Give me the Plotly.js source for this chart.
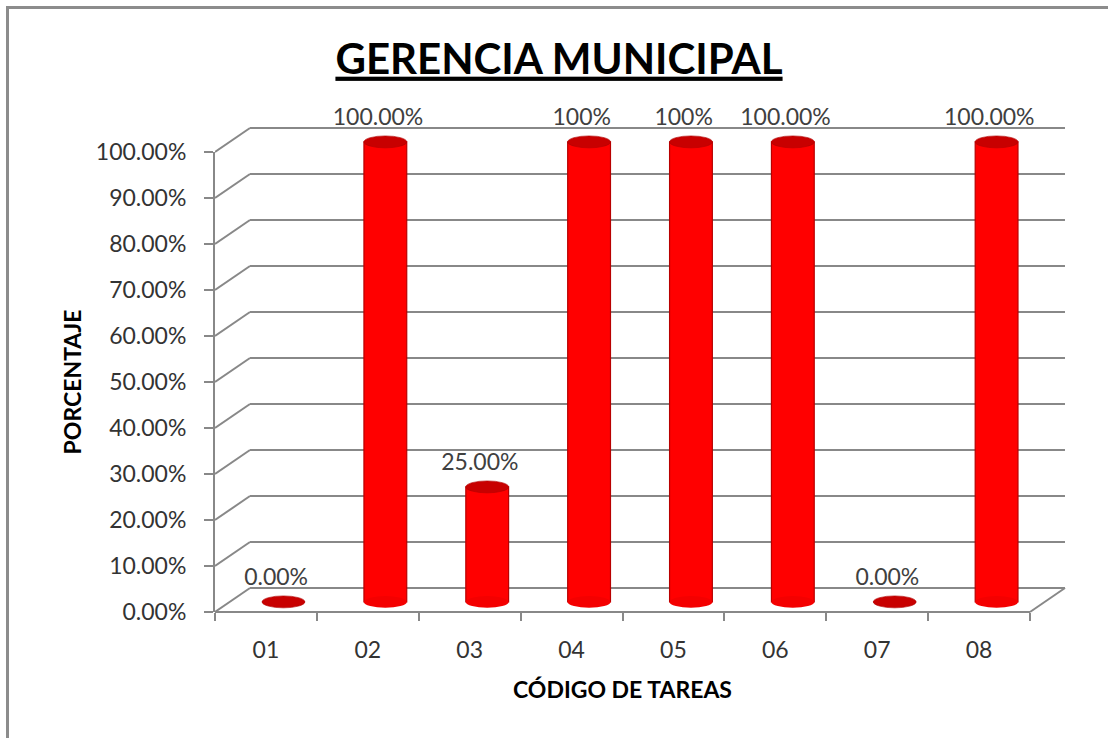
<!DOCTYPE html>
<html><head><meta charset="utf-8">
<script src="https://cdn.plot.ly/plotly-3.0.1.min.js"></script>
<style>
html,body{margin:0;padding:0;background:#fff;overflow:hidden}
#chart{width:1108px;height:738px;position:absolute;left:0;top:0}
#frame{position:absolute;left:6px;top:6px;width:1300px;height:900px;border-left:3px solid #8c8c8c;border-top:3px solid #8c8c8c;pointer-events:none}
</style></head><body>
<div id="chart"></div><div id="frame"></div>
<script>
// ---- data ----
const categories = ['01','02','03','04','05','06','07','08'];
const values = [0, 1, 0.25, 1, 1, 1, 0, 1];
const dataLabels = ['0.00%','100.00%','25.00%','100%','100%','100.00%','0.00%','100.00%'];
const yTickVals = [0, 0.1, 0.2, 0.3, 0.4, 0.5, 0.6, 0.7, 0.8, 0.9, 1.0];
const yTickText = ['0.00%','10.00%','20.00%','30.00%','40.00%','50.00%','60.00%','70.00%','80.00%','90.00%','100.00%'];

// ---- styling / 3D projection constants ----
const FONT = 'Lato, "Liberation Sans", sans-serif';
const GRID = '#888888';
const DX = 0.3435, DY = 0.0522;      // depth offset of back wall
const FLOOR = 0.022;                  // bar base at mid depth
const BAR_SHIFT = 0.172, BAR_W = 0.42, CAP_H = 0.026;
const n = categories.length;
const idx = categories.map((c, i) => i);
const bounds = categories.map((c, i) => i - 0.5).concat([n - 0.5]);

// plot box in pixels: left 215, right 1071, top 100, bottom 618 ; front 0% at 612, 100% at 152
const T = 100, B = 618, Y0 = 612, UNIT_Y = 460;
const PH = B - T;

const shapes = [];
yTickVals.forEach(v => {
  shapes.push({type:'line', xref:'x2', yref:'y2', x0:-0.5, y0:v, x1:-0.5 + DX, y1:v + DY, line:{color:GRID, width:2}, layer:'below'});
  shapes.push({type:'line', xref:'x2', yref:'y2', x0:-0.5 + DX, y0:v + DY, x1:n - 0.5 + DX, y1:v + DY, line:{color:GRID, width:2}, layer:'below'});
});
shapes.push({type:'line', xref:'x2', yref:'y2', x0:-0.5, y0:0, x1:n - 0.5, y1:0, line:{color:GRID, width:2}, layer:'below'});
shapes.push({type:'line', xref:'x2', yref:'y2', x0:n - 0.5, y0:0, x1:n - 0.5 + DX, y1:DY, line:{color:GRID, width:2}, layer:'below'});

values.forEach((v, i) => {
  const cx = i + BAR_SHIFT;
  if (v > 0) {
    shapes.push({type:'circle', xref:'x2', yref:'y2', x0:cx - BAR_W/2, x1:cx + BAR_W/2,
      y0:FLOOR - CAP_H/2, y1:FLOOR + CAP_H/2, fillcolor:'#f40000', line:{width:0}, layer:'above'});
  }
  shapes.push({type:'circle', xref:'x2', yref:'y2', x0:cx - BAR_W/2, x1:cx + BAR_W/2,
    y0:FLOOR + v - CAP_H/2, y1:FLOOR + v + CAP_H/2, fillcolor:'#c80000', line:{color:'#b00000', width:0.6}, layer:'above'});
});

const traces = [
  // empty trace so the visible front axes (x / y) get their subplot
  {type:'scatter', mode:'markers', x:[], y:[], xaxis:'x', yaxis:'y', hoverinfo:'skip', showlegend:false},
  {type:'bar', x: idx.map(i => i + BAR_SHIFT), y: values, base: FLOOR, width: BAR_W,
   xaxis:'x2', yaxis:'y2', cliponaxis:false, hoverinfo:'skip',
   marker:{color:'#ff0000', line:{color:'#b80000', width:1.2}}},
  {type:'scatter', mode:'text', x: idx.map(i => i + 0.1), y: values.map(v => FLOOR + v + 0.05),
   text: dataLabels, textposition:'middle center', cliponaxis:false, hoverinfo:'skip',
   textfont:{family:FONT, size:23, color:'#404040'}, xaxis:'x2', yaxis:'y2'}
];

const layout = {
  width:1108, height:738,
  margin:{l:215, r:37, t:T, b:738 - B},
  paper_bgcolor:'#ffffff', plot_bgcolor:'rgba(0,0,0,0)',
  showlegend:false,
  title:{text:'GERENCIA MUNICIPAL', xref:'container', x:559/1108, xanchor:'center',
         yref:'container', y:1 - 59/738, yanchor:'middle',
         font:{family:FONT, size:42, weight:'bold', color:'#000000', lineposition:'under'}},
  xaxis:{domain:[0, 815/856], range:[-0.5, n - 0.5], anchor:'y',
         tickmode:'array', tickvals: idx, ticktext: categories, ticks:'',
         showline:false, showgrid:false, zeroline:false,
         minor:{tickmode:'array', tickvals: bounds, ticks:'outside', ticklen:8, tickwidth:2, tickcolor:GRID, showgrid:false},
         tickfont:{family:FONT, size:23, color:'#333333'}, ticklabelstandoff:22,
         title:{text:'CÓDIGO DE TAREAS', font:{family:FONT, size:23, weight:'bold', color:'#000000'}, standoff:19},
         fixedrange:true},
  yaxis:{domain:[(B - Y0)/PH, (B - Y0 + UNIT_Y)/PH], range:[0, 1], anchor:'x',
         tickmode:'array', tickvals: yTickVals, ticktext: yTickText,
         ticks:'outside', ticklen:9, tickwidth:2, tickcolor:GRID,
         showline:true, linecolor:GRID, linewidth:2, showgrid:false, zeroline:false,
         tickfont:{family:FONT, size:23, color:'#333333'}, ticklabelstandoff:13,
         title:{text:'PORCENTAJE', font:{family:FONT, size:23, weight:'bold', color:'#000000'}, standoff:8},
         fixedrange:true},
  xaxis2:{domain:[0, 1], range:[-0.5, -0.5 + 856/101.875], visible:false, anchor:'y2', fixedrange:true},
  yaxis2:{domain:[0, 1], range:[-(B - Y0)/UNIT_Y, (Y0 - T)/UNIT_Y], visible:false, anchor:'x2', fixedrange:true},
  shapes: shapes
};

Plotly.newPlot('chart', traces, layout, {displayModeBar:false, staticPlot:true});
</script>
</body></html>
